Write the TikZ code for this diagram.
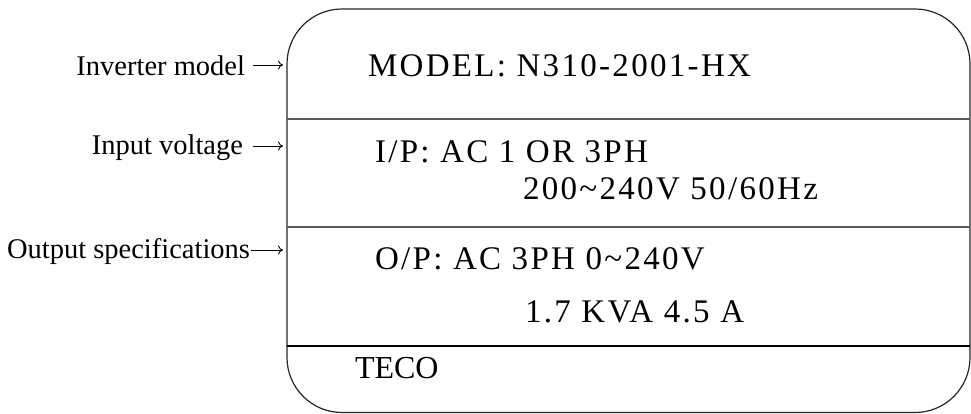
\documentclass[tikz,border=0pt]{standalone}
\usepackage{fontspec}
\setmainfont{Liberation Serif}
\newfontfamily\platefont[LetterSpace=7]{Liberation Serif}
\usetikzlibrary{arrows.meta}

\begin{document}
\begin{tikzpicture}[x=1pt, y=1pt,
    every node/.style={inner sep=0pt, outer sep=0pt},
    spec/.style={anchor=base west, font=\platefont\fontsize{33}{40}\selectfont},
    lab/.style={anchor=base east, font=\fontsize{28.5}{34}\selectfont},
    tip/.style={-{To[length=5pt,width=9pt]}, line width=0.9pt, shorten >=4pt}]
  \useasboundingbox (0,0) rectangle (971,414);

  % name plate with its rows
  \node[draw=black!85, line width=1.2pt, rounded corners=55pt,
        minimum width=683pt, minimum height=403.5pt] (plate) at (628.5,203.25) {};
  \draw[black!65, line width=1.2pt] (plate.west |- 0,295) -- (plate.east |- 0,295);
  \draw[black!65, line width=1.2pt] (plate.west |- 0,187) -- (plate.east |- 0,187);
  \draw[line width=2.4pt] (plate.west |- 0,68) -- (plate.east |- 0,68);

  \node[spec] (model) at (368,337) {MODEL: N310-2001-HX};
  \node[spec] (ip) at (375,251) {I/P: AC 1 OR 3PH};
  \node[spec] (iprange) at (523,214) {200\textasciitilde 240V 50/60Hz};
  \node[spec] (op) at (375,144) {O/P: AC 3PH 0\textasciitilde 240V};
  \node[spec] (oprating) at (525,91) {1.7 KVA 4.5 A};
  \node[anchor=base west, font=\fontsize{32}{38}\selectfont] (teco) at (355,35) {TECO};

  % labels on the left
  \node[lab] (inv) at (245,338) {Inverter model};
  \node[lab] (vin) at (243,259) {Input voltage};
  \node[lab] (vout) at (250,155) {Output specifications};
  \coordinate (inv-tail) at (253,349);
  \coordinate (vin-tail) at (253,268);
  \coordinate (vout-tail) at (251,164);
  \draw[tip] (inv-tail) -- (inv-tail -| plate.west);
  \draw[tip] (vin-tail) -- (vin-tail -| plate.west);
  \draw[tip] (vout-tail) -- (vout-tail -| plate.west);
\end{tikzpicture}
\end{document}
